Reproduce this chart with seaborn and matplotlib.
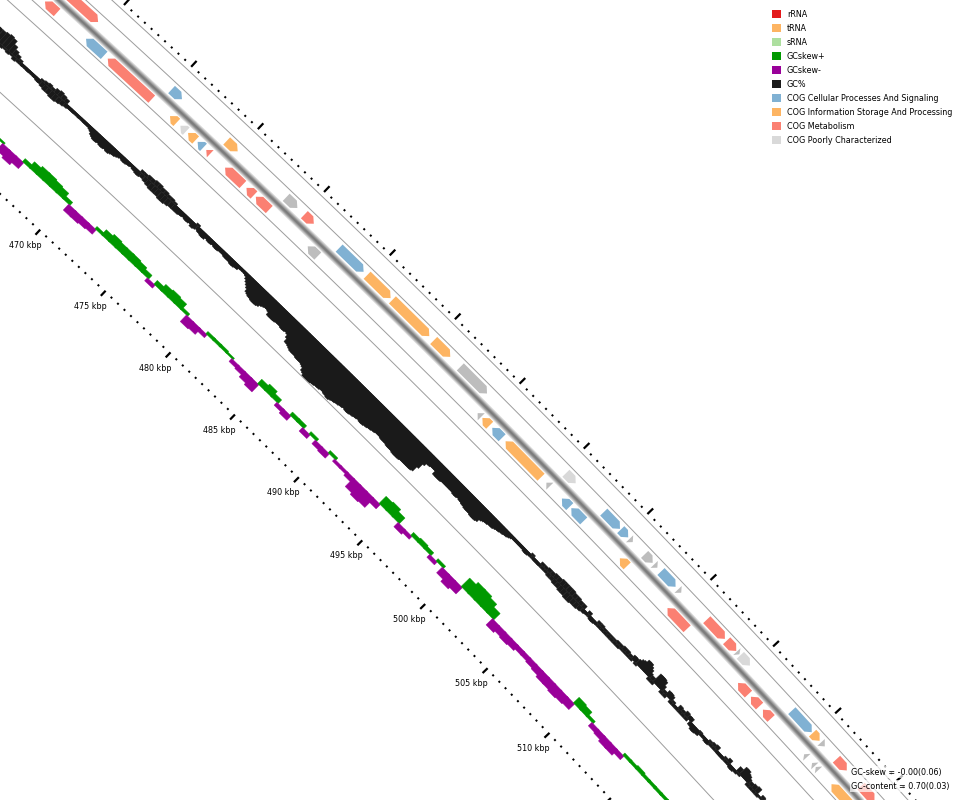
import numpy as np
import pandas as pd
import matplotlib
matplotlib.use("Agg")
import matplotlib.pyplot as plt
import seaborn as sns
from matplotlib.collections import PolyCollection, LineCollection
from matplotlib.patches import Patch

##################### data #####################################

genome_kbp = 3950.0   # full genome length, only sets the curvature of the arcs

# CDS features, kbp. strand -1 = inner (reverse), +1 = outer (forward)
feat_start = [461.66, 464.71, 466.33, 470.99, 471.77, 472.35, 473.07, 473.72, 475.14, 476.76,
              477.47, 481.42, 494.52, 494.89, 495.66, 496.70, 499.90, 501.12, 501.86, 505.70,
              509.49, 515.15, 516.19, 517.16, 520.50, 521.15, 521.45, 522.73,
              462.30, 470.06, 474.20, 478.70, 480.08, 482.73, 484.87, 486.81, 489.99, 492.05,
              500.28, 503.26, 504.60, 505.30, 506.49, 507.25, 507.79, 509.15, 511.44, 513.03,
              513.85, 514.13, 518.28, 519.96, 520.65, 521.90, 523.90]
feat_end = [462.56, 466.06, 469.62, 471.50, 472.21, 472.92, 473.51, 474.02, 476.49, 477.33,
            478.49, 482.19, 494.80, 495.46, 496.43, 499.48, 500.17, 501.74, 502.84, 506.28,
            511.06, 515.99, 516.89, 517.82, 520.72, 521.37, 521.67, 524.20,
            464.58, 470.84, 475.03, 479.55, 480.80, 484.60, 486.67, 489.65, 491.27, 494.12,
            501.05, 504.54, 505.19, 505.55, 507.13, 507.50, 508.95, 509.40, 512.89, 513.80,
            514.05, 514.90, 519.89, 520.53, 520.95, 522.74, 525.00]
feat_strand = [-1] * 28 + [1] * 27
feat_cat = ['metab', 'cell', 'metab', 'info', 'poorly', 'info', 'cell', 'metab', 'metab', 'metab',
            'metab', 'other', 'other', 'info', 'cell', 'info', 'other', 'cell', 'cell', 'info',
            'metab', 'metab', 'metab', 'metab', 'other', 'other', 'other', 'info',
            'metab', 'cell', 'info', 'other', 'metab', 'cell', 'info', 'info', 'info', 'other',
            'poorly', 'cell', 'cell', 'other', 'other', 'other', 'cell', 'other', 'metab', 'metab',
            'other', 'poorly', 'cell', 'info', 'other', 'metab', 'metab']

# GC content deviation from the mean (ring units, 36 = full half ring)
# sliding window 0.25 kbp, step 0.125 kbp
gc_first = 460.0
gc_step = 0.125
gc_window = 0.25
gc_dev = [8, 9, 10, 11, 11, 12, 12, 12,            # 460
          -2, 12, -3, 13, -3, 14, -2, 13,          # 461
          -3, 9, -2, 6, -4, 4, -3, 2,              # 462
          -3, -3, -2, -3, -3, -3, -2, -3,          # 463
          -3, -3, -4, -4, 2, -5, 3, -6,            # 464
          4, -6, 3, -7, 5, -7, 6, -6,              # 465
          5, -5, 4, -4, -3, -3, -3, -3,            # 466
          -3, -2, -3, -3, -2, -3, -3, -3,          # 467
          -3, -3, -4, -5, -7, -8, -9, -9,          # 468
          -8, -8, -9, -9, -8, -8, -9, -8,          # 469
          -7, -7, -6, -5, -4, -4, -5, -5,          # 470
          -4, -4, -3, -3, -4, -4, -5, -5,          # 471
          3, -4, 3, -5, 4, -6, 4, -7,              # 472
          5, -7, 5, -7, 4, -8, 4, -8,              # 473
          3, -7, 3, -6, 2, -6, -5, -6,             # 474
          -5, -5, -4, -4, -5, -5, -4, -4,          # 475
          -6, -5, 2, -4, -5, -5, -6, -6,           # 476
          -4, -4, -5, -5, -4, -4, -5, -5,          # 477
          -4, -4, -4, -4, -5, -5, -5, -5,          # 478
          -6, -6, -5, -5, -3, -3, -2, -3,          # 479
          -3, -4, -6, -8, -10, -12, -15, -16,      # 480
          -17, -17, -18, -18, -18, -17, -15, -14,  # 481
          -13, -13, -13, -14, -17, -17, -17, -17,  # 482
          -16, -16, -16, -16, -17, -17, -16, -16,  # 483
          -17, -20, -24, -24, -25, -26, -27, -27,  # 484
          -27, -27, -28, -28, -28, -28, -29, -30,  # 485
          -33, -34, -36, -36, -36, -36, -35, -35,  # 486
          -34, -34, -34, -33, -33, -33, -34, -34,  # 487
          -35, -34, -33, -33, -32, -32, -31, -31,  # 488
          -30, -30, -31, -31, -30, -30, -29, -29,  # 489
          -28, -28, -29, -29, -28, -28, -27, -27,  # 490
          -26, -26, -25, -25, -25, -25, -26, -26,  # 491
          -26, -26, -27, -27, -27, -27, -28, -28,  # 492
          -28, -28, -27, -27, -27, -27, -27, -27,  # 493
          -27, -26, -20, -14, -11, -11, -10, -10,  # 494
          -10, -10, -14, -14, -14, -14, -13, -13,  # 495
          -13, -13, -13, -13, -13, -13, -14, -14,  # 496
          -13, -13, -14, -14, -15, -15, -16, -16,  # 497
          -16, -16, -17, -17, -17, -16, -13, -12,  # 498
          -11, -11, -10, -10, -10, -9, -8, -8,     # 499
          -7, -7, -6, -6, -5, -4, -3, -3,          # 500
          -3, -3, -3, -3, -3, -3, -4, -4,          # 501
          -3, -3, 2, -3, -3, -3, -3, -3,           # 502
          3, -3, 3, -3, 4, -4, 4, -4,              # 503
          5, -5, 5, -5, 6, -6, 6, -6,              # 504
          6, -7, 6, -7, 5, -6, 5, -6,              # 505
          4, -5, 4, -4, -3, -3, 3, -3,             # 506
          -4, -4, -3, -3, 3, -3, 3, -3,            # 507
          2, -3, 2, -3, 2, -3, 2, -3,              # 508
          3, -3, 3, -2, 4, -2, 4, -2,              # 509
          3, -2, 5, 5, -2, 6, 8, 9,                # 510
          12, 12, 10, 8, 5, -3, 4, -3,             # 511
          11, 11, 11, 10, 6, -3, 3, -3,            # 512
          6, 6, 5, -3, 2, -3, -2, -3,              # 513
          4, -3, 3, -3, 5, -3, 4, 4,               # 514
          -4, -4, -6, -6, -5, -5, 1, -3,           # 515
          -2, -3, -4, -4, 2, -3, 3, -3,            # 516
          4, -3, -3, -3, -3, -3, 2, -3,            # 517
          4, -3, -4, -4, -2, -3, 6, -2,            # 518
          10, 10, 8, 7, 5, -3, 4, -3,              # 519
          5, -3, 6, -3, -1, -2, 3, -3,             # 520
          2, -3, -2, -2, 3]                        # 521

# GC skew (ring units), step 0.5 kbp
skew_first = 464.0
skew_step = 0.5
skew_window = 0.6
gc_skew = [2, 3,  2, -9,  -11, -8,  4, 8,  10, 10,  9, 8,  4, -8,  -8, -7,  -6, 3,
           7, 9,  8, 8,  8, 7,  5, -4,  5, 8,  9, 8,  3, -9,  -8, -4,  3, 3,
           3, 2,  -4, -5,  -8, -10,  6, 8,  5, -4,  -6, 4,  4, -5,  3, -5,  -6, 3,
           -3, -3,  -5, -12,  -14, -13,  -6, 10,  11, 8,  -6, -4,  4, 5,  4, -4,
           3, -8,  -11, -9,  12, 15,  15, 13,  9, -9,  -7, -8,  -7, -5,  -5, -6,
           -7, -9,  -9, -10,  -9, -8,  8, 7,  3, -5,  -6, -8,  -8, -5,  3, 3,
           4, 3,  3, 3,  3, 3,  2]

legend_labels = ['rRNA', 'tRNA', 'sRNA', 'GCskew+', 'GCskew-', 'GC%',
                 'COG Cellular Processes And Signaling', 'COG Information Storage And Processing',
                 'COG Metabolism', 'COG Poorly Characterized']
legend_colors = ['#e31a1c', '#fdb462', '#addf9f', '#009900', '#990099', '#1a1a1a',
                 '#80b1d3', '#fdb462', '#fb8072', '#d9d9d9']
cat_colors = {'cell': '#80b1d3', 'info': '#fdb462', 'metab': '#fb8072',
              'poorly': '#d9d9d9', 'other': '#bdbdbd'}

skew_text = 'GC-skew = -0.00(0.06)'
gc_text = 'GC-content = 0.70(0.03)'

##################### geometry of the zoomed circle #############

cx, cy, r0 = -7612.0, 8483.0, 11253.0
ring_lines = [219.5, 202.0, 166.0, 149.5, 76.0]
backbone_v = 183.5
fwd_v, rev_v, feat_h = 194.0, 173.5, 10.0
gc_base, skew_base = 112.5, 40.0


def arc_xy(s, v):
    th = 2 * np.pi * np.asarray(s, dtype=float) / genome_kbp
    r = r0 + np.asarray(v, dtype=float)
    return cx + r * np.sin(th), cy - r * np.cos(th)


def arrow(s0, s1, strand, vc, h=feat_h, head=0.3):
    hd = min(head, s1 - s0)
    lo, hi = vc - h / 2, vc + h / 2
    if strand > 0:
        pts = [(s0, lo), (s1 - hd, lo), (s1, vc), (s1 - hd, hi), (s0, hi)]
    else:
        pts = [(s0, vc), (s0 + hd, lo), (s1, lo), (s1, hi), (s0 + hd, hi)]
    s, v = np.array(pts).T
    x, y = arc_xy(s, v)
    return np.column_stack([x, y])


def bars(first, step, width, vals, base):
    polys = []
    for i, val in enumerate(vals):
        sc = first + i * step
        s = [sc - width / 2, sc + width / 2, sc + width / 2, sc - width / 2]
        v = [base, base, base + val, base + val]
        x, y = arc_xy(s, v)
        polys.append(np.column_stack([x, y]))
    return polys


##################### plot #####################################

sns.set_theme(style='white')
plt.rcParams['font.family'] = ['DejaVu Sans']
plt.rcParams['text.color'] = 'black'

fig = plt.figure(figsize=(9.6, 8), dpi=100)
ax = fig.add_axes([0, 0, 1, 1])

# thin ring lines
s_line = np.arange(455, 530.01, 0.1)
rows = []
for i, v in enumerate(ring_lines):
    x, y = arc_xy(s_line, v)
    rows.append(pd.DataFrame({'x': x, 'y': y, 'ring': i}))
lines_df = pd.concat(rows)
sns.lineplot(data=lines_df, x='x', y='y', units='ring', estimator=None, sort=False,
             color='#9c9c9c', lw=0.7, ax=ax, legend=False)

# backbone, shaded
bx, by = arc_xy(s_line, backbone_v)
bb = pd.DataFrame({'x': bx, 'y': by})
for w, c in zip([8, 6, 4, 2], ['#dadada', '#b8b8b8', '#979797', '#7c7c7c']):
    sns.lineplot(data=bb, x='x', y='y', sort=False, estimator=None, color=c, lw=w * 0.72, ax=ax)

# features
feats = pd.DataFrame({'start': feat_start, 'end': feat_end, 'strand': feat_strand, 'cat': feat_cat})
polys, cols = [], []
for _, f in feats.iterrows():
    vc = fwd_v if f['strand'] > 0 else rev_v
    polys.append(arrow(f['start'], f['end'], f['strand'], vc))
    cols.append(cat_colors[f['cat']])
ax.add_collection(PolyCollection(polys, facecolors=cols, edgecolors='none'))

# GC content
gc_polys = bars(gc_first, gc_step, gc_window, gc_dev, gc_base)
ax.add_collection(PolyCollection(gc_polys, facecolors='#1a1a1a', edgecolors='#1a1a1a', linewidths=0.3))

# GC skew
sk_polys = bars(skew_first, skew_step, skew_window, gc_skew, skew_base)
sk_cols = ['#009900' if v > 0 else '#990099' for v in gc_skew]
ax.add_collection(PolyCollection(sk_polys, facecolors=sk_cols, edgecolors=sk_cols, linewidths=0.3))

# rulers
ticks = np.arange(910, 1061) / 2.0
major = (ticks % 5) == 0


def tick_segs(pos, v0, v1):
    x0, y0 = arc_xy(pos, v0)
    x1, y1 = arc_xy(pos, v1)
    return [[(a, b), (c, d)] for a, b, c, d in zip(x0, y0, x1, y1)]


for vmin, vmaj in [((0, 2), (-5, 2)), ((224, 226), (224, 232))]:
    ax.add_collection(LineCollection(tick_segs(ticks[~major], *vmin), colors='black',
                                     linewidths=1.45, capstyle='butt'))
    ax.add_collection(LineCollection(tick_segs(ticks[major], *vmaj), colors='black',
                                     linewidths=1.6, capstyle='butt'))

for k in ticks[major]:
    lx, ly = arc_xy(k, -20)
    if 20 < lx < 940 and 5 < ly < 795:
        ax.text(lx, ly, f'{int(k)} kbp', ha='center', va='center', fontsize=5.8, color='black')

ax.set_xlim(0, 960)
ax.set_ylim(800, 0)
ax.axis('off')

# legend
handles = [Patch(facecolor=c, edgecolor='none', label=l) for l, c in zip(legend_labels, legend_colors)]
fig.legend(handles=handles, loc='upper left', bbox_to_anchor=(772 / 960, 1 - 10 / 800),
           frameon=False, fontsize=5.8, handlelength=1.1, handleheight=1.1, labelcolor='black',
           handletextpad=0.75, labelspacing=0.62, borderpad=0, borderaxespad=0)

box = dict(facecolor='white', alpha=0.7, edgecolor='none', pad=1)
ax.text(851, 772, skew_text, va='center', ha='left', fontsize=5.8, color='black', bbox=box)
ax.text(851, 786, gc_text, va='center', ha='left', fontsize=5.8, color='black', bbox=box)

fig.savefig('out.png', dpi=100)
